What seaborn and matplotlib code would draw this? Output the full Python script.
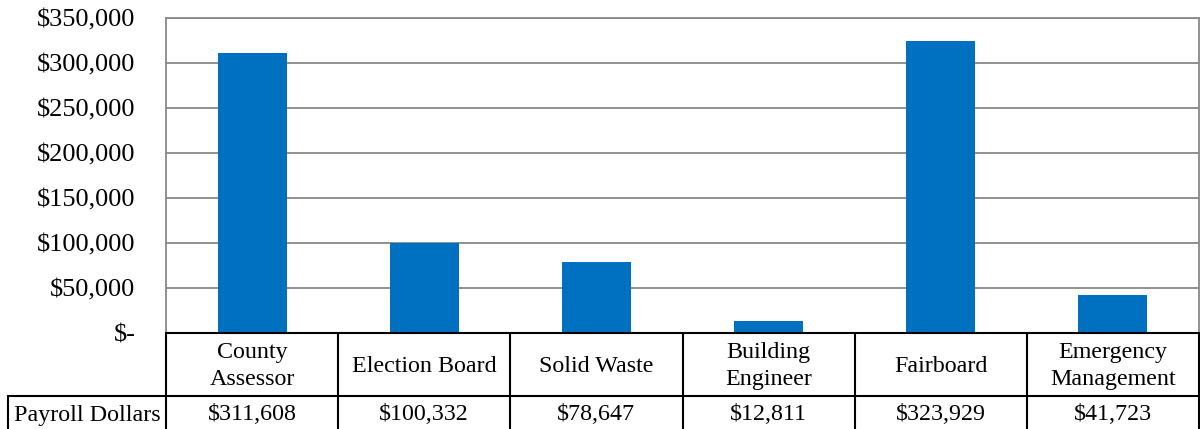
import matplotlib
matplotlib.use("Agg")
import matplotlib.pyplot as plt
import matplotlib.transforms as mtrans
from matplotlib.lines import Line2D
import seaborn as sns
import pandas as pd

categories = ["County\nAssessor", "Election Board", "Solid Waste", "Building\nEngineer",
              "Fairboard", "Emergency\nManagement"]
values = [311608, 100332, 78647, 12811, 323929, 41723]
value_labels = ["$311,608", "$100,332", "$78,647", "$12,811", "$323,929", "$41,723"]
row_label = "Payroll Dollars"
y_ticks = [0, 50000, 100000, 150000, 200000, 250000, 300000, 350000]
y_tick_labels = ["$-", "$50,000", "$100,000", "$150,000", "$200,000", "$250,000",
                 "$300,000", "$350,000"]

sns.set_theme(style="white")
plt.rcParams['font.family'] = ['Liberation Serif', 'DejaVu Serif']
plt.rcParams['text.color'] = 'black'

W, H = 1200, 429
fig = plt.figure(figsize=(W / 100, H / 100), dpi=100)
ax = fig.add_axes([166 / W, (H - 333) / H, (1199 - 166) / W, (333 - 18) / H])

df = pd.DataFrame({"cat": categories, "val": values})
sns.barplot(data=df, x="cat", y="val", ax=ax, color="#0070C0", saturation=1, width=0.4,
            linewidth=0, edgecolor="none")

ax.set_ylim(0, 350000)
ax.set_xlim(-0.5, len(categories) - 0.5)
ax.set_yticks(y_ticks)
ax.set_yticklabels(y_tick_labels, fontsize=19, color="black")
ax.tick_params(axis="y", length=0, pad=22)
ax.set_xticks([])
ax.set_xlabel("")
ax.set_ylabel("")
ax.grid(axis="y", color="#888888", linewidth=1.3)
ax.set_axisbelow(True)
for s in ["left", "top", "right"]:
    ax.spines[s].set_color("#888888")
    ax.spines[s].set_linewidth(1.3)
ax.spines["bottom"].set_visible(False)

# Data table below the plot
tr = mtrans.blended_transform_factory(ax.transData, fig.transFigure)
def fy(py):
    return (H - py) / H

y_top = fy(333)
y_mid = fy(396)
y_bot = fy(433)
lw = 1.5
n = len(categories)
x_left_fig = 8 / W
x0_data = ax.transData.inverted().transform(fig.transFigure.transform((x_left_fig, 0)))[0]

lines = []
lines.append(Line2D([-0.5, n - 0.5], [y_top, y_top], transform=tr))
lines.append(Line2D([x0_data, n - 0.5], [y_mid, y_mid], transform=tr))
lines.append(Line2D([x0_data, x0_data], [y_mid, y_bot], transform=tr))
for i in range(n + 1):
    xb = i - 0.5
    lines.append(Line2D([xb, xb], [y_top, y_bot], transform=tr))
for ln in lines:
    ln.set_color("black")
    ln.set_linewidth(lw)
    ln.set_clip_on(False)
    fig.add_artist(ln)

for i, (c, v) in enumerate(zip(categories, value_labels)):
    fig.text(i, fy(366), c, transform=tr, ha="center", va="center", fontsize=17.3,
             linespacing=1.4, color="black")
    fig.text(i, fy(415), v, transform=tr, ha="center", va="center", fontsize=17.3,
             color="black")
fig.text((8 + 166) / 2 / W, fy(415), row_label, ha="center", va="center", fontsize=17.3,
         color="black")

fig.savefig("out.png", dpi=100)
